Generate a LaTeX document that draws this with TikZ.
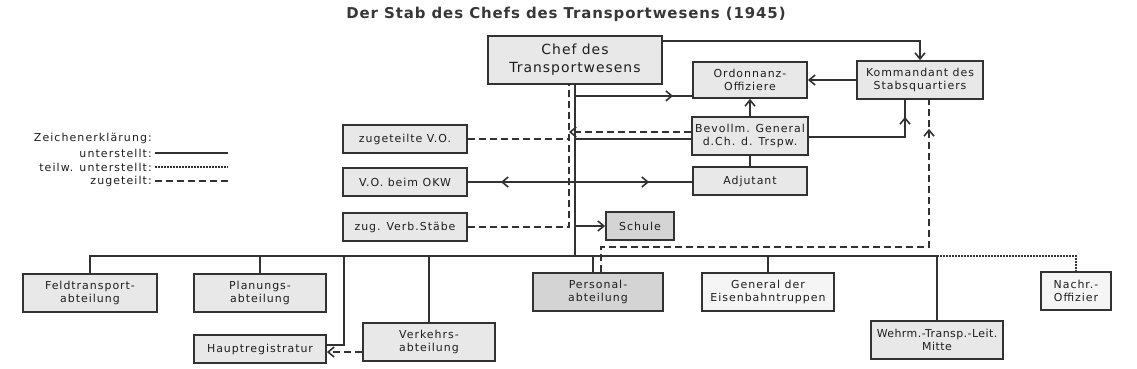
\documentclass[tikz,border=0pt]{standalone}
\usepackage{fontspec}
\setmainfont{DejaVu Sans}[LetterSpace=9.0]
\usetikzlibrary{arrows.meta,decorations.markings}
\definecolor{lineC}{RGB}{50,50,50}
\definecolor{textC}{RGB}{30,30,30}
\definecolor{titleC}{RGB}{55,55,55}
\definecolor{boxC}{RGB}{232,232,232}
\definecolor{darkboxC}{RGB}{212,212,212}
\definecolor{paleboxC}{RGB}{245,245,245}

\begin{document}
\begin{tikzpicture}[
  x=1bp, y=-1bp,  % scan pixel grid, y runs downwards
  >={Straight Barb[length=6bp,width=10bp,line width=1.6bp]},
  box/.style={draw=lineC, line width=1.8bp, fill=boxC, text=textC, align=center,
              inner xsep=1bp, inner ysep=1bp, font=\fontsize{11}{13.5}\selectfont},
  darkbox/.style={box, fill=darkboxC},
  palebox/.style={box, fill=paleboxC},
  unter/.style={draw=lineC, line width=1.8bp},
  zug/.style={unter, dash pattern=on 7bp off 4bp},
  teilw/.style={unter, dash pattern=on 1.5bp off 1.5bp},
  tipat/.style={postaction={decorate, decoration={markings, mark=at position #1 with {\arrow{>}}}}},
  tipback/.style={postaction={decorate, decoration={markings, mark=at position #1 with {\arrowreversed{>}}}}},
  legend/.style={anchor=east, text=textC, inner sep=1bp,
                 font=\fontsize{11}{13}\selectfont\addfontfeatures{LetterSpace=10.0}}
]
\useasboundingbox (0,0) rectangle (1137,368);

% ---------- title ----------
\node[text=titleC, font=\fontsize{15}{18}\selectfont\bfseries\addfontfeatures{LetterSpace=6.0}] (title) at (566,14)
  {Der Stab des Chefs des Transportwesens (1945)};

% ---------- legend ----------
\node[legend] (lgtitle) at (153,138) {Zeichenerklärung:};
\node[legend] (lgunter) at (153,153) {unterstellt:};
\node[legend] (lgteilw) at (153,167) {teilw. unterstellt:};
\node[legend] (lgzug)   at (153,181) {zugeteilt:};
\draw[unter] ([xshift=2bp]lgunter.east) -- ++(73,0);
\draw[teilw] ([xshift=2bp]lgteilw.east) -- ++(73,0);
\draw[zug]   ([xshift=2bp]lgzug.east) -- ++(73,0);

% ============ upper part: Chef and staff ============
\node[box, minimum width=174bp, minimum height=48bp,
      font=\fontsize{14}{18}\selectfont\addfontfeatures{LetterSpace=7.0}]
  (chef) at (575,60) {Chef des\\Transportwesens};
\node[box, minimum width=114bp, minimum height=36bp] (ordo)   at (750,80)  {Ordonnanz-\\Offiziere};
\node[box, minimum width=126bp, minimum height=38bp] (komm)   at (920,80)  {Kommandant des\\Stabsquartiers};
\node[box, minimum width=116bp, minimum height=38bp] (bevoll) at (750,136) {Bevollm. General\\d.Ch. d. Trspw.};
\node[box, minimum width=114bp, minimum height=28bp] (adju)   at (750,181) {Adjutant};

\node[box, minimum width=124bp, minimum height=28bp] (zugvo)   at (405,139) {zugeteilte V.O.};
\node[box, minimum width=124bp, minimum height=28bp] (vookw)   at (405,182) {V.O. beim OKW};
\node[box, minimum width=124bp, minimum height=28bp] (zugverb) at (405,227) {zug. Verb.Stäbe};
\node[darkbox, minimum width=68bp, minimum height=28bp] (schule) at (640,226) {Schule};

% ============ lower row: departments ============
\coordinate (bus)  at (0,256);  % main bus of the Chef
\coordinate (dbus) at (0,247);  % dashed return line to the Kommandant

\node[box, minimum width=134bp, minimum height=38bp] (feld)  at (90,293)  {Feldtransport-\\abteilung};
\node[box, minimum width=132bp, minimum height=38bp] (plan)  at (260,293) {Planungs-\\abteilung};
\node[box, minimum width=132bp, minimum height=28bp] (haupt) at (260,349) {Hauptregistratur};
\node[box, minimum width=132bp, minimum height=38bp] (verk)  at (429,342) {Verkehrs-\\abteilung};
\node[darkbox, minimum width=130bp, minimum height=38bp] (pers)  at (598,292) {Personal-\\abteilung};
\node[palebox, minimum width=132bp, minimum height=38bp] (geneb) at (768,292) {General der\\Eisenbahntruppen};
\node[box, minimum width=132bp, minimum height=38bp,
      font=\fontsize{11}{13.5}\selectfont\addfontfeatures{LetterSpace=4.0}]
  (wtl) at (937,340) {Wehrm.-Transp.-Leit.\\Mitte};
\node[palebox, minimum width=70bp, minimum height=38bp] (nachr) at (1076,291) {Nachr.-\\Offizier};

% ---------- connectors, upper part ----------
\coordinate (cdash)  at ([xshift=-6bp]chef.south);
\coordinate (ordoin) at ([yshift=3bp]ordo.south west);
\coordinate (bvz)    at ([yshift=4bp]bevoll.west);
\coordinate (bvu)    at ([yshift=-3bp]bevoll.west);
\coordinate (bvk)    at ([yshift=-1bp]bevoll.east);
\coordinate (kommb)  at ([xshift=-15bp]komm.south);

\draw[unter,->] ([yshift=-6bp]chef.north east) -| (komm.north);
\draw[unter,->] (komm.west) -- (komm.west -| ordo.east);
\draw[unter, tipat=-19bp] (chef.south |- ordoin) -- (ordoin);
\draw[unter,->] (bevoll.north) -- (ordo.south);
\draw[unter, tipat=-17bp] (bvk) -| (kommb);
\draw[zug,->] (bvz) -- (bvz -| cdash);
\draw[unter] (bvu) -- (bvu -| chef.south);
\draw[unter] (bevoll.south) -- (adju.north);
\draw[unter, tipback=33bp, tipat=-43bp] (vookw.east) -- (vookw.east -| adju.west);
\draw[zug] (zugvo.east) -- (zugvo.east -| cdash);
\draw[zug] (zugverb.east) -| (cdash);
\draw[unter,->] (chef.south |- schule.west) -- (schule.west);

% ---------- connectors, lower row ----------
\coordinate (persd) at ([xshift=-5bp]pers.north);
\coordinate (persz) at ([xshift=3bp]pers.north);
\coordinate (kommz) at ([xshift=9bp]komm.south);
\coordinate (hpin)  at ([yshift=4bp]haupt.east);
\coordinate (hpup)  at ([xshift=17bp]haupt.east);
\coordinate (vkout) at ([yshift=-10bp]verk.west);

\draw[unter] (chef.south) -- (chef.south |- bus);
\draw[unter] (feld.north) -- (feld.north |- bus) -- (wtl.north |- bus) -- (wtl.north);
\draw[unter] (plan.north |- bus) -- (plan.north);
\draw[unter] (hpup |- bus) |- (hpin);
\draw[unter] (verk.north |- bus) -- (verk.north);
\draw[unter] (persd |- bus) -- (persd);
\draw[unter] (geneb.north |- bus) -- (geneb.north);
\draw[zug,->] (vkout) -- (vkout -| haupt.east);
\draw[zug, tipat=-29bp] (persz) |- (kommz |- dbus) -- (kommz);
\draw[teilw] (wtl.north |- bus) -| (nachr.north);

\end{tikzpicture}
\end{document}
